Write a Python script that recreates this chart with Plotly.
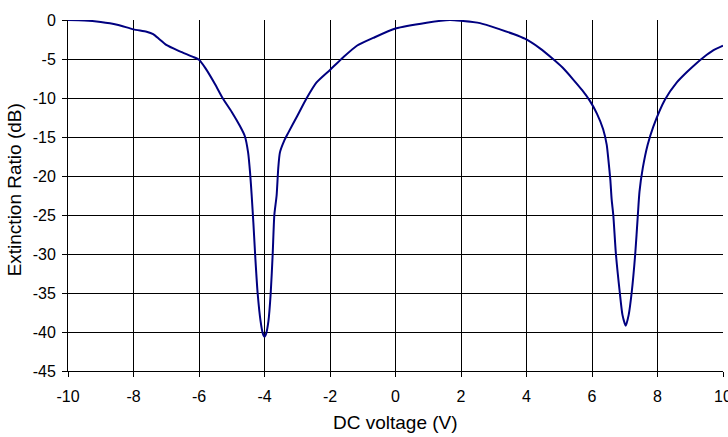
import plotly.graph_objects as go

# DC bias sweep of the modulator and its measured extinction ratio
voltage = [
    -10.0, -9.5, -9.0, -8.5, -8.0, -7.6, -7.4, -7.2, -7.0, -6.6, -6.2, -6.0,
    -5.8, -5.5, -5.28, -5.0, -4.75, -4.6, -4.5, -4.44, -4.39, -4.34, -4.28,
    -4.21, -4.12, -4.05, -4.0, -3.95, -3.88, -3.81, -3.75, -3.70, -3.63,
    -3.58, -3.53, -3.4, -3.28, -3.0, -2.71, -2.41, -2.0, -1.6, -1.18, -0.68,
    0.0, 0.95, 1.66, 2.0, 2.58, 3.19, 3.6, 3.95, 4.4, 4.81, 5.1, 5.42, 5.7,
    5.94, 6.15, 6.34, 6.45, 6.5, 6.56, 6.6, 6.65, 6.73, 6.85, 6.93, 7.03,
    7.12, 7.21, 7.32, 7.40, 7.45, 7.55, 7.7, 7.87, 8.23, 8.59, 8.89, 9.2,
    9.4, 9.7, 10.0,
]
extinction_db = [
    0.0, -0.05, -0.25, -0.6, -1.2, -1.5, -1.8, -2.5, -3.2, -4.0, -4.7, -5.1,
    -6.2, -8.3, -10.0, -11.8, -13.6, -14.9, -17.0, -19.6, -22.6, -26.0, -30.5,
    -35.0, -38.6, -40.2, -40.6, -40.2, -38.6, -35.0, -30.0, -25.0, -22.5,
    -19.0, -17.0, -15.5, -14.5, -12.3, -10.0, -8.0, -6.4, -4.8, -3.3, -2.3,
    -1.1, -0.35, 0.0, -0.1, -0.4, -1.2, -1.8, -2.4, -3.6, -5.0, -6.1, -7.6, -9.0,
    -10.4, -12.0, -14.0, -16.0, -17.9, -20.5, -23.0, -25.0, -30.0, -35.0, -37.8, -39.2,
    -37.8, -35.0, -30.0, -25.0, -22.0, -19.0, -16.0, -13.7, -10.2, -8.0, -6.7, -5.5,
    -4.8, -3.9, -3.3,
]

x_ticks = [-10, -8, -6, -4, -2, 0, 2, 4, 6, 8, 10]
y_ticks = [0, -5, -10, -15, -20, -25, -30, -35, -40, -45]

x_title = "DC voltage (V)"
y_title = "Extinction Ratio (dB)"

fig = go.Figure(
    go.Scatter(
        x=voltage,
        y=extinction_db,
        mode="lines",
        line=dict(color="#000080", width=2, shape="spline", smoothing=0.6),
        showlegend=False,
        hoverinfo="skip",
    )
)

family = "Liberation Sans, Arial, sans-serif"
tick_font = dict(family=family, size=16, color="#000")
title_font = dict(family=family, size=19, color="#000")

fig.update_layout(
    template="none",
    width=728,
    height=437,
    margin=dict(l=68, r=5, t=20, b=66),
    paper_bgcolor="white",
    plot_bgcolor="white",
    font=tick_font,
)

common_axis = dict(
    showgrid=True,
    gridcolor="#000",
    gridwidth=1,
    zeroline=False,
    showline=True,
    linecolor="#000",
    linewidth=1,
    ticks="outside",
    ticklen=5,
    tickcolor="#000",
    tickfont=tick_font,
    automargin=False,
)

fig.update_xaxes(
    range=[-10, 10],
    tickvals=x_ticks,
    ticktext=[str(v) for v in x_ticks],
    ticklabelstandoff=6,
    ticklabeloverflow="allow",
    **common_axis,
)

fig.update_yaxes(
    range=[-45, 0],
    tickvals=y_ticks,
    ticktext=[str(v) for v in y_ticks],
    ticklabelstandoff=3,
    **common_axis,
)

# Axis titles placed as paper-anchored annotations
fig.add_annotation(
    text=x_title,
    xref="paper", yref="paper",
    x=0.5, y=-0.1455,
    xanchor="center", yanchor="middle",
    showarrow=False,
    font=title_font,
)
fig.add_annotation(
    text=y_title,
    xref="paper", yref="paper",
    x=-0.0817, y=0.516,
    xanchor="center", yanchor="middle",
    textangle=-90,
    showarrow=False,
    font=title_font,
)

fig.write_html("out.html")
